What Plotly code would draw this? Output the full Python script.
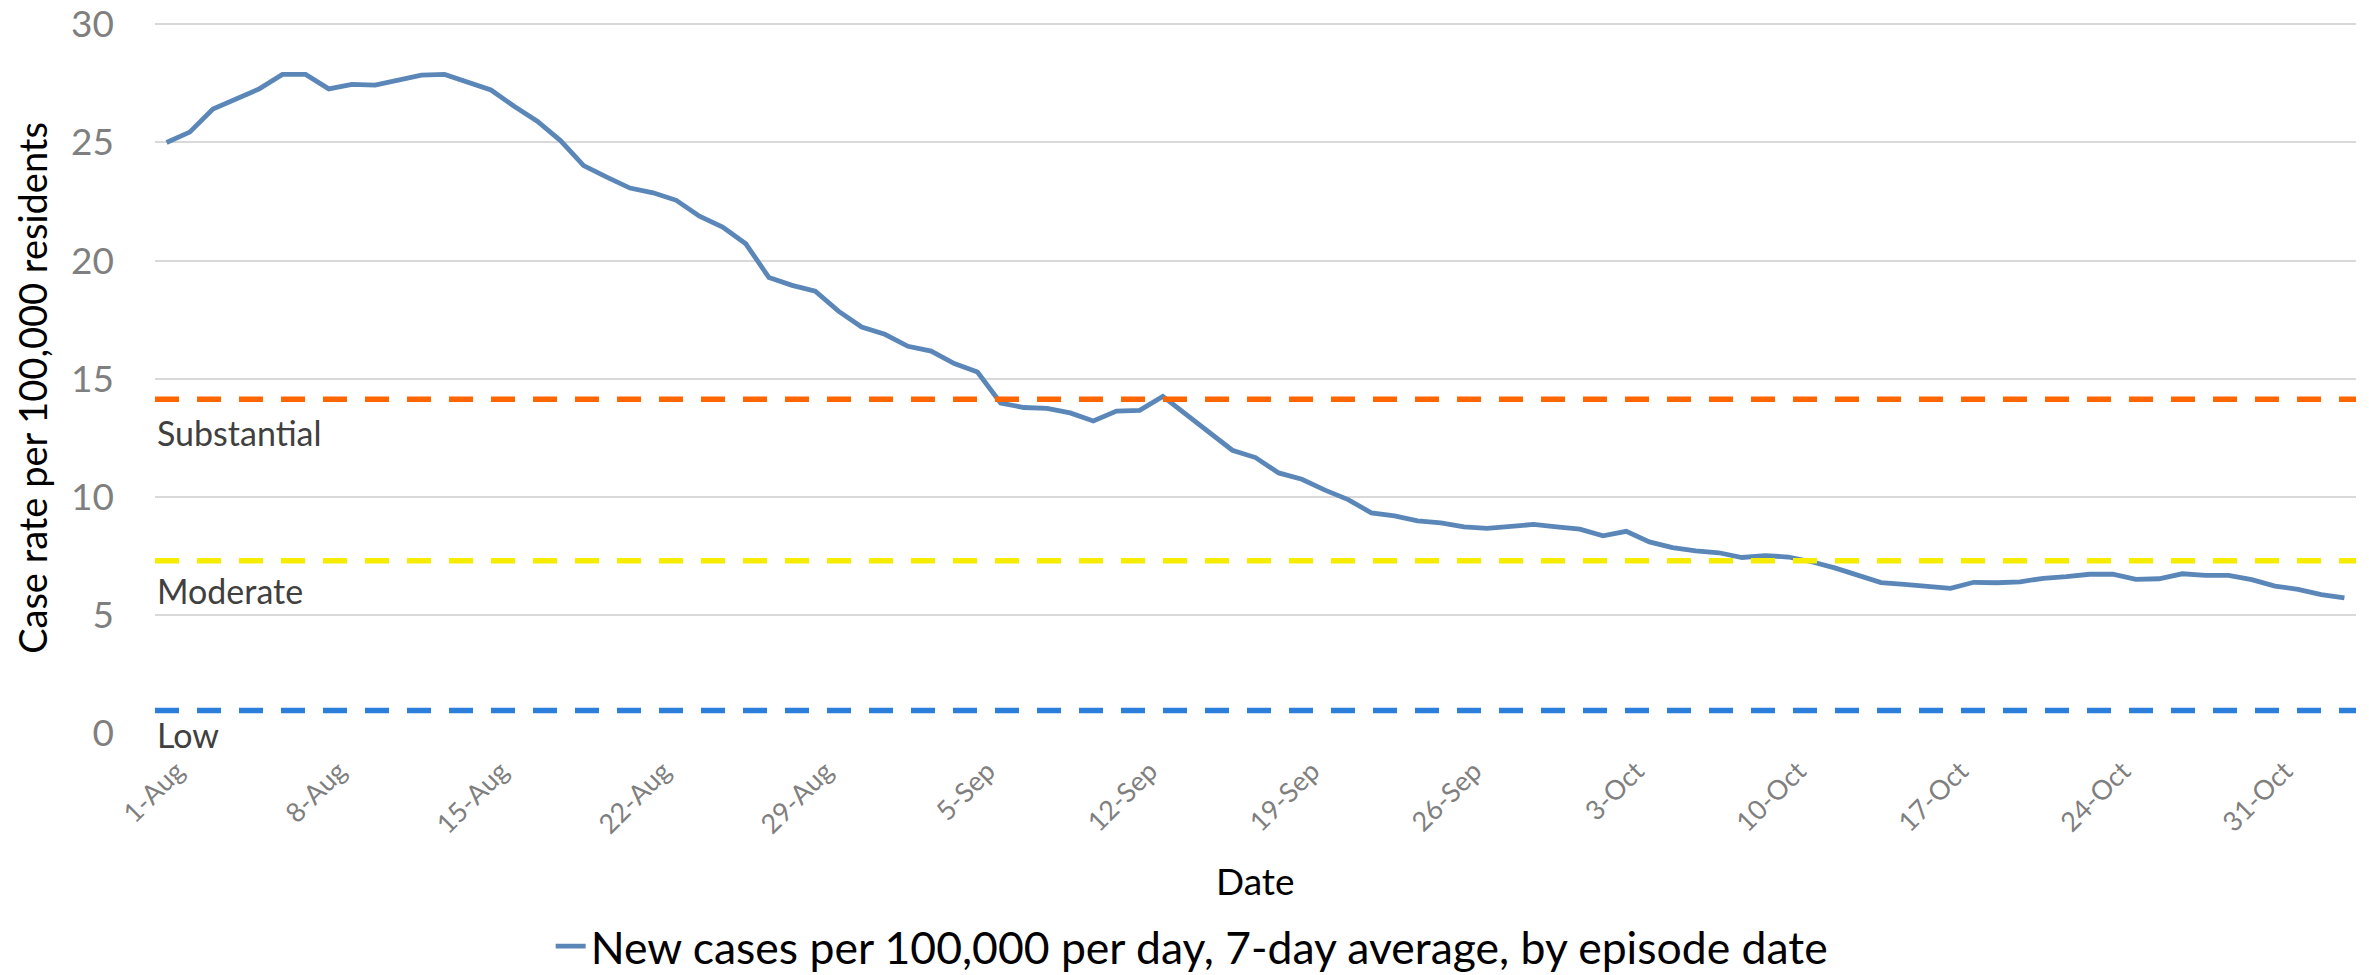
import pandas as pd
import plotly.graph_objects as go

# ---- data ----
start_date = "2020-08-01"
rate_values = [
    25.00, 25.44, 26.42, 26.87, 27.27, 27.88, 27.88, 27.27, 27.46, 27.43,
    27.62, 27.85, 27.88, 27.55, 27.22, 26.53, 25.90, 25.08, 24.02, 23.53,
    23.07, 22.87, 22.55, 21.88, 21.42, 20.71, 19.28, 18.95, 18.70, 17.86,
    17.19, 16.88, 16.37, 16.17, 15.64, 15.28, 13.97, 13.78, 13.74, 13.55,
    13.21, 13.63, 13.66, 14.25, 13.50, 12.74, 11.97, 11.66, 11.01, 10.74,
    10.28, 9.88, 9.32, 9.19, 8.98, 8.90, 8.73, 8.66, 8.73, 8.83,
    8.73, 8.63, 8.35, 8.54, 8.09, 7.85, 7.71, 7.63, 7.43, 7.51,
    7.45, 7.25, 6.99, 6.68, 6.37, 6.29, 6.22, 6.12, 6.38, 6.36,
    6.40, 6.55, 6.62, 6.72, 6.72, 6.50, 6.53, 6.74, 6.67, 6.67,
    6.49, 6.22, 6.08, 5.86, 5.72,
]
dates = pd.date_range(start_date, periods=len(rate_values), freq="D")

threshold_names = ["Substantial", "Moderate", "Low"]
threshold_values = [14.13, 7.29, 0.95]
threshold_colors = ["#FF6600", "#F5EC00", "#2B7FDB"]
threshold_label_y = [12.73, 6.05, -0.08]   # where each label sits (data units)

y_ticks = [0, 5, 10, 15, 20, 25, 30]
y_max = 30.1
tick_labels = ["1-Aug", "8-Aug", "15-Aug", "22-Aug", "29-Aug", "5-Sep", "12-Sep",
               "19-Sep", "26-Sep", "3-Oct", "10-Oct", "17-Oct", "24-Oct", "31-Oct"]
tick_dates = dates[::7][:len(tick_labels)]

series_name = "New cases per 100,000 per day, 7-day average, by episode date"
y_title = "Case rate per 100,000 residents"
x_title = "Date"

FONT = "Lato"

fig = go.Figure()
fig.add_trace(go.Scatter(
    x=dates, y=rate_values, mode="lines", name=series_name,
    line=dict(color="#5A87B8", width=4.8), showlegend=True,
))

for name, val, col, ly in zip(threshold_names, threshold_values, threshold_colors, threshold_label_y):
    fig.add_hline(y=val, line=dict(color=col, width=5.5, dash="24px,18px"), layer="above")
    fig.add_annotation(x=0.0, xref="paper", y=ly / y_max, yref="paper", text=name,
                       showarrow=False, xanchor="left", yanchor="middle",
                       font=dict(family=FONT, size=34, color="#404040"))

fig.add_annotation(x=-0.0557, xref="paper", y=0.486, yref="paper", text=y_title,
                   textangle=-90, showarrow=False, xanchor="center", yanchor="middle",
                   font=dict(family=FONT, size=38, color="#000000"))
fig.add_annotation(x=0.5, xref="paper", y=-0.207, yref="paper", text=x_title,
                   showarrow=False, xanchor="center", yanchor="middle",
                   font=dict(family=FONT, size=37, color="#000000"))

x0 = dates[0] - pd.Timedelta(hours=12)
x1 = dates[-1] + pd.Timedelta(hours=12)

fig.update_layout(
    width=2369, height=975,
    margin=dict(l=155, r=13, t=22, b=242, autoexpand=False),
    paper_bgcolor="white", plot_bgcolor="white",
    font=dict(family=FONT),
    xaxis=dict(
        range=[x0, x1], tickvals=tick_dates, ticktext=tick_labels, tickangle=-45,
        showgrid=False, zeroline=False, showline=False, ticks="",
        tickfont=dict(family=FONT, size=27, color="#7F7F7F"),
        ticklabelstandoff=16, ticklabelshift=10, automargin=False,
    ),
    yaxis=dict(
        range=[0, y_max], tickvals=y_ticks, showgrid=True,
        gridcolor="#D9D9D9", gridwidth=2,
        zeroline=False, showline=False, ticks="",
        tickfont=dict(family=FONT, size=37, color="#7F7F7F"),
        ticklabelstandoff=40, automargin=False, ticklabeloverflow="allow",
    ),
    legend=dict(orientation="h", x=0.471, xanchor="center", y=-0.300, yanchor="middle",
                font=dict(family=FONT, size=44.5, color="#000000"), bgcolor="rgba(0,0,0,0)"),
)

fig.write_html("out.html", config={"displayModeBar": False},
               post_script="document.body.style.margin='0px';")
